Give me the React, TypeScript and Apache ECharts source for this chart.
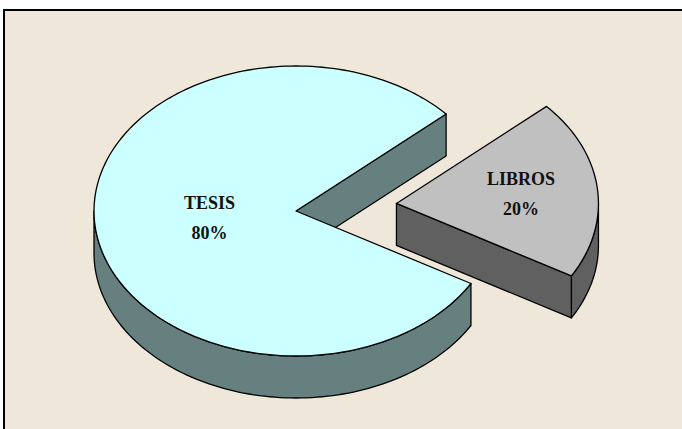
import React, { useEffect, useRef } from "react";
import * as echarts from "echarts";

const categories = ["TESIS", "LIBROS"];
const values = [80, 20];
const topColors = ["#CCFFFF", "#C0C0C0"];
const sideColors = ["#668080", "#606060"];
const explodeFraction = [0, 0.5];
const labelRadius = [0.43, 0.62];

const CX = 296;
const CY = 211;
const RX = 202;
const RY = 145;
const DEPTH = 42;
const START_ANGLE = 42;

export default function App() {
  const ref = useRef<HTMLDivElement>(null);

  useEffect(() => {
    if (!ref.current) return;
    const chart = echarts.init(ref.current, undefined, { renderer: "svg" });
    const total = values.reduce((a, b) => a + b, 0);
    const cum: number[] = [];
    let acc = 0;
    values.forEach((v) => {
      cum.push(acc);
      acc += v;
    });

    const renderItem = (params: any, api: any) => {
      const i = params.dataIndex;
      const v = api.value(0);
      const a0 = START_ANGLE + (360 * cum[i]) / total;
      const a1 = a0 + (360 * v) / total;
      const rad = (d: number) => (d * Math.PI) / 180;
      const mid = rad((a0 + a1) / 2);
      const ox = CX + explodeFraction[i] * RX * Math.cos(mid);
      const oy = CY - explodeFraction[i] * RY * Math.sin(mid);
      const pt = (deg: number, z: number) => [
        ox + RX * Math.cos(rad(deg)),
        oy - RY * Math.sin(rad(deg)) + z,
      ];
      const arc = (from: number, to: number, z: number) => {
        const pts: number[][] = [];
        const n = Math.max(2, Math.ceil(Math.abs(to - from) / 1.5));
        for (let k = 0; k <= n; k++) pts.push(pt(from + ((to - from) * k) / n, z));
        return pts;
      };
      const stroke = { stroke: "#000", lineWidth: 1.3, lineJoin: "round" };
      const children: any[] = [];

      // outer wall (front half only)
      for (let k = -1; k <= 2; k++) {
        const lo = Math.max(a0, 180 + 360 * k);
        const hi = Math.min(a1, 360 + 360 * k);
        if (lo < hi) {
          const pts = [...arc(lo, hi, 0), ...arc(hi, lo, DEPTH)];
          children.push({
            type: "polygon",
            shape: { points: pts },
            style: { fill: sideColors[i], ...stroke },
          });
        }
      }
      // radial cut faces
      const face = (deg: number) => {
        const r0 = pt(deg, 0);
        const r1 = pt(deg, DEPTH);
        return [
          [ox, oy],
          r0,
          r1,
          [ox, oy + DEPTH],
        ];
      };
      if (Math.cos(rad(a0)) > 0) {
        children.push({
          type: "polygon",
          shape: { points: face(a0) },
          style: { fill: sideColors[i], ...stroke },
        });
      }
      if (Math.cos(rad(a1)) < 0) {
        children.push({
          type: "polygon",
          shape: { points: face(a1) },
          style: { fill: sideColors[i], ...stroke },
        });
      }
      // top face
      children.push({
        type: "polygon",
        shape: { points: [[ox, oy], ...arc(a0, a1, 0)] },
        style: { fill: topColors[i], ...stroke },
      });
      // label
      const lx = ox + labelRadius[i] * RX * Math.cos(mid);
      const ly = oy - labelRadius[i] * RY * Math.sin(mid);
      children.push({
        type: "text",
        style: {
          text: categories[i] + "\n" + Math.round((100 * v) / total) + "%",
          x: lx,
          y: ly,
          align: "center",
          verticalAlign: "middle",
          fontFamily: "'Liberation Serif', 'Times New Roman', serif",
          fontWeight: "bold",
          fontSize: 18,
          lineHeight: 30,
          fill: "#111",
        },
      });
      return { type: "group", children };
    };

    chart.setOption({
      animation: false,
      backgroundColor: "#ffffff",
      graphic: [
        {
          type: "rect",
          z: 0,
          shape: { x: 4, y: 10, width: 700, height: 440 },
          style: { fill: "#EFE7D9", stroke: "#000", lineWidth: 2 },
        },
      ],
      series: [
        {
          type: "custom",
          coordinateSystem: "none",
          renderItem,
          data: values.map((v, i) => [v, i]),
          z: 5,
        },
      ],
    });

    return () => chart.dispose();
  }, []);

  return (
    <div
      ref={ref}
      style={{ position: "fixed", left: 0, top: 0, width: 682, height: 429 }}
    />
  );
}
